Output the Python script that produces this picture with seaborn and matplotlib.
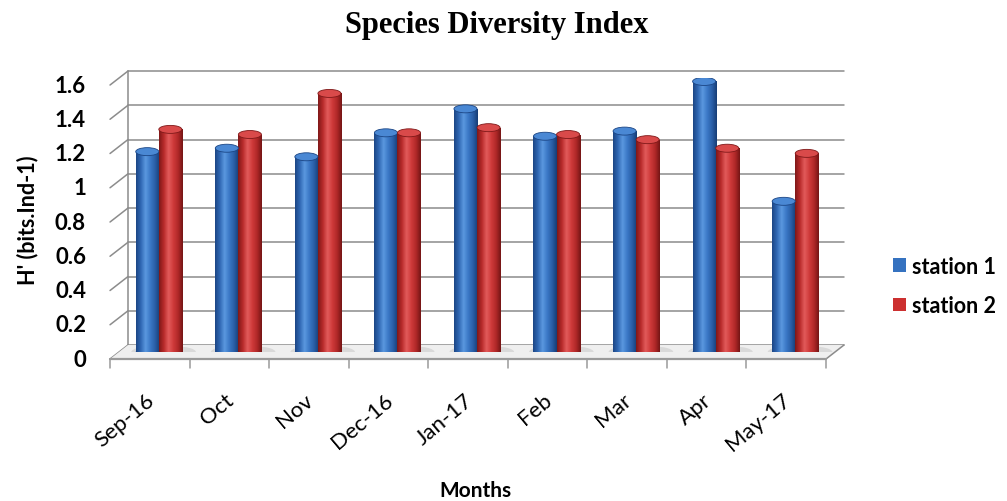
import numpy as np
import pandas as pd
import matplotlib
matplotlib.use("Agg")
import matplotlib.pyplot as plt
import matplotlib.transforms as mtransforms
from matplotlib.colors import LinearSegmentedColormap
from matplotlib.patches import Ellipse, Polygon, Rectangle
import seaborn as sns

months = ["Sep-16", "Oct", "Nov", "Dec-16", "Jan-17", "Feb", "Mar", "Apr", "May-17"]
station1 = [1.17, 1.19, 1.14, 1.28, 1.42, 1.26, 1.29, 1.58, 0.88]
station2 = [1.30, 1.27, 1.51, 1.28, 1.31, 1.27, 1.24, 1.19, 1.16]
series = ["station 1", "station 2"]
yticks = [0, 0.2, 0.4, 0.6, 0.8, 1, 1.2, 1.4, 1.6]
ytick_labels = ["0", "0.2", "0.4", "0.6", "0.8", "1", "1.2", "1.4", "1.6"]

df = pd.DataFrame({"month": months, series[0]: station1, series[1]: station2})
long = df.melt(id_vars="month", var_name="station", value_name="H")

sns.set_theme(style="white")
plt.rcParams["font.family"] = ["Lato", "DejaVu Sans"]
plt.rcParams["text.color"] = "black"

fig = plt.figure(figsize=(10.07, 5.02), dpi=100)
ax = fig.add_axes([0.1182, 0.2968, 0.711, 0.5458])

base = {"station 1": "#3572c0", "station 2": "#cc3030"}
sns.barplot(data=long, x="month", y="H", hue="station", order=months,
            hue_order=series, palette=base, width=0.58, gap=0,
            saturation=1, errorbar=None, legend=False, ax=ax, zorder=3)

ax.set_xlim(-0.5, len(months) - 0.5)
ax.set_ylim(0, 1.6)
for s in ax.spines.values():
    s.set_visible(False)
ax.set_xticks([])
ax.set_yticks([])
ax.set_xlabel("")
ax.set_ylabel("")

# depth offsets: back wall sits up-right, front edge down-left
back = mtransforms.ScaledTranslation(0.09, 0.07, fig.dpi_scale_trans)
front = mtransforms.ScaledTranslation(-0.09, -0.07, fig.dpi_scale_trans)
tb = ax.transData + back
tf = ax.transData + front
x0, x1 = -0.5, len(months) - 0.5
grid_c = "#8c8c8c"

# back wall gridlines and left wall edge
for yv in yticks:
    ax.plot([x0, x1], [yv, yv], color=grid_c, lw=1.1, transform=tb, zorder=1, clip_on=False)
    ax.annotate("", xy=(x0, yv), xycoords=tb, xytext=(x0, yv), textcoords=tf,
                arrowprops=dict(arrowstyle="-", color=grid_c, lw=1.1, shrinkA=0, shrinkB=0),
                zorder=1, annotation_clip=False)
ax.plot([x0, x0], [0, 1.6], color=grid_c, lw=1.1, transform=tb, zorder=1, clip_on=False)

# floor strip
dx = 0.09 * 100 / (716 / len(months))
dy = 0.07 * 100 / (274 / 1.6)
floor = Polygon([(x0 - dx, -dy), (x1 - dx, -dy), (x1 + dx, dy), (x0 + dx, dy)],
                closed=True, facecolor="#efefef", edgecolor="none", zorder=1, clip_on=False)
ax.add_patch(floor)
ax.plot([x0, x1], [0, 0], color="#9a9a9a", lw=1.6, transform=tf, zorder=2, clip_on=False)
ax.annotate("", xy=(x1, 0), xycoords=tb, xytext=(x1, 0), textcoords=tf,
            arrowprops=dict(arrowstyle="-", color=grid_c, lw=1.1, shrinkA=0, shrinkB=0),
            zorder=1, annotation_clip=False)
for b in np.arange(x0, x1 + 0.01, 1.0):
    ax.plot([b, b], [0, -0.055], color="#9a9a9a", lw=1.1, transform=tf, zorder=2, clip_on=False)

# cylinder shading on each bar
shade = {
    "station 1": LinearSegmentedColormap.from_list(
        "s1", ["#1b4584", "#2f67b3", "#5b98df", "#3a78c6", "#2a5ea6", "#173c74"]),
    "station 2": LinearSegmentedColormap.from_list(
        "s2", ["#7e1818", "#b72a2a", "#e25b5b", "#cf3a3a", "#b02828", "#731515"]),
}
cap_col = {"station 1": "#4a88d4", "station 2": "#d94a4a"}
grad = np.linspace(0, 1, 256).reshape(1, -1)
cap_h = 8 / (274 / 1.6)
patches = list(ax.patches)
n = len(months)
for k, p in enumerate(patches[:2 * n]):
    st = series[k // n]
    bx, bw, bh = p.get_x(), p.get_width(), p.get_height()
    # soft shadow on the floor
    ax.add_patch(Ellipse((bx + bw * 0.5 + 0.06, 0.0), bw * 1.8, cap_h * 1.4,
                         facecolor="#d2d2d2", edgecolor="none", zorder=2, alpha=0.75))
    p.set_edgecolor("none")
    im = ax.imshow(grad, extent=(bx, bx + bw, 0, bh), aspect="auto",
                   cmap=shade[st], zorder=3.5, interpolation="bilinear")
    im.set_clip_path(p)
    ax.add_patch(Ellipse((bx + bw / 2, 0), bw, cap_h, facecolor=shade[st](0.75),
                         edgecolor="none", zorder=3.2))
    ax.add_patch(Ellipse((bx + bw / 2, bh), bw, cap_h, facecolor=cap_col[st],
                         edgecolor=shade[st](0.0), lw=0.6, zorder=4))
ax.set_xlim(-0.5, len(months) - 0.5)
ax.set_ylim(0, 1.6)

# tick labels on the front edge
for yv, lab in zip(yticks, ytick_labels):
    ax.text(x0, yv, lab, transform=ax.transData + mtransforms.ScaledTranslation(
        -0.33, -0.07, fig.dpi_scale_trans), ha="right", va="center",
        fontsize=16, fontweight="bold", color="black")
for i, lab in enumerate(months):
    ax.text(i, 0, lab, transform=ax.transData + mtransforms.ScaledTranslation(
        -0.07, -0.45, fig.dpi_scale_trans), ha="right", va="center",
        rotation=40, rotation_mode="anchor", fontsize=16, color="black")

fig.text(497 / 1007, 1 - 26 / 502, "Species Diversity Index", ha="center", va="center",
         fontsize=22, fontweight="bold", color="black",
         family=["Liberation Serif", "DejaVu Serif"])
fig.text(28 / 1007, 1 - 220 / 502, "H' (bits.Ind-1)", rotation=90, ha="center",
         va="center", fontsize=15.5, fontweight="bold", color="black")
fig.text(475 / 1007, 1 - 491 / 502, "Months", ha="center", va="center",
         fontsize=15, fontweight="bold", color="black")

handles = [Rectangle((0, 0), 1, 1, facecolor=base[s], edgecolor="none") for s in series]
leg = fig.legend(handles, series, loc="center left", bbox_to_anchor=(893 / 1007, 1 - 287 / 502),
                 frameon=False, borderpad=0, borderaxespad=0, handlelength=0.6,
                 handleheight=0.6, handletextpad=0.3, labelspacing=0.85,
                 prop={"size": 15.5, "weight": "bold"}, labelcolor="black")

fig.savefig("out.png", dpi=100)
